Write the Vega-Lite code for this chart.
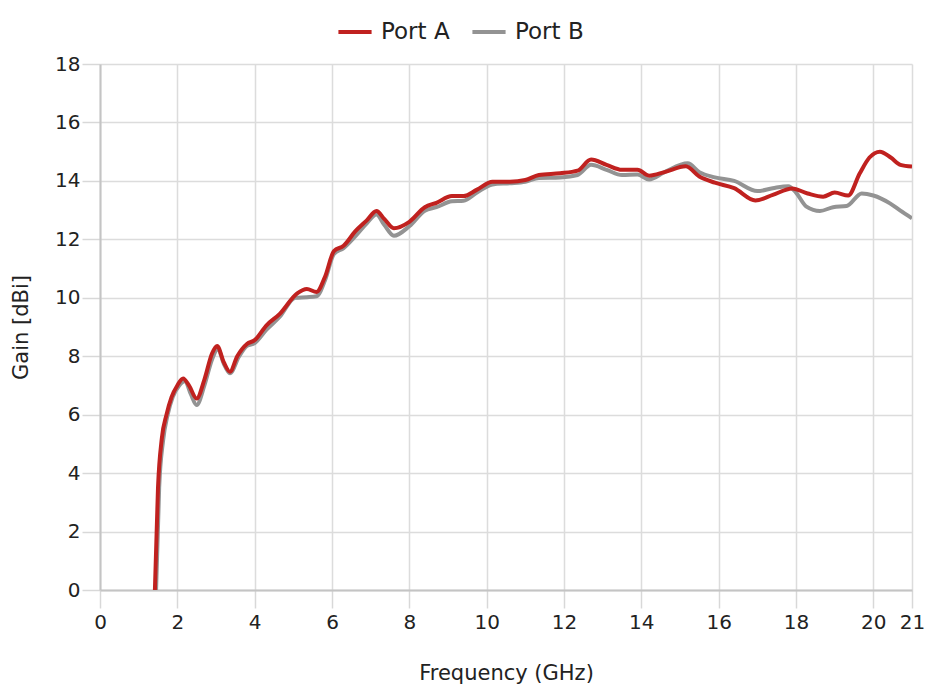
{
  "$schema": "https://vega.github.io/schema/vega-lite/v6.json",
  "width": 812,
  "height": 526,
  "autosize": "none",
  "padding": {"left": 100, "top": 64, "right": 18, "bottom": 106},
  "background": "white",
  "config": {
    "font": "DejaVu Sans",
    "view": {"stroke": null}
  },
  "datasets": {
    "a": [
      {"f": 1.42, "g": 0}, {"f": 1.5, "g": 3.5}, {"f": 1.6, "g": 5.2}, {"f": 1.72, "g": 6.0},
      {"f": 1.85, "g": 6.6}, {"f": 2.0, "g": 7.0}, {"f": 2.15, "g": 7.24}, {"f": 2.3, "g": 7.0},
      {"f": 2.5, "g": 6.55}, {"f": 2.7, "g": 7.2}, {"f": 2.9, "g": 8.1}, {"f": 3.03, "g": 8.35},
      {"f": 3.2, "g": 7.8}, {"f": 3.36, "g": 7.47}, {"f": 3.55, "g": 8.0}, {"f": 3.8, "g": 8.42},
      {"f": 4.0, "g": 8.55}, {"f": 4.3, "g": 9.05}, {"f": 4.65, "g": 9.45}, {"f": 5.1, "g": 10.15},
      {"f": 5.35, "g": 10.3}, {"f": 5.6, "g": 10.2}, {"f": 5.82, "g": 10.72}, {"f": 6.05, "g": 11.6},
      {"f": 6.3, "g": 11.78}, {"f": 6.6, "g": 12.27}, {"f": 6.9, "g": 12.65}, {"f": 7.15, "g": 12.97},
      {"f": 7.35, "g": 12.7}, {"f": 7.6, "g": 12.38}, {"f": 8.0, "g": 12.6}, {"f": 8.4, "g": 13.1},
      {"f": 8.7, "g": 13.25}, {"f": 9.1, "g": 13.48}, {"f": 9.4, "g": 13.48}, {"f": 9.75, "g": 13.7},
      {"f": 10.15, "g": 13.97}, {"f": 10.6, "g": 13.97}, {"f": 11.0, "g": 14.03}, {"f": 11.35, "g": 14.2},
      {"f": 11.9, "g": 14.26}, {"f": 12.35, "g": 14.35}, {"f": 12.7, "g": 14.73}, {"f": 13.1, "g": 14.55},
      {"f": 13.5, "g": 14.38}, {"f": 13.9, "g": 14.38}, {"f": 14.2, "g": 14.18}, {"f": 14.6, "g": 14.3},
      {"f": 15.15, "g": 14.5}, {"f": 15.5, "g": 14.15}, {"f": 15.9, "g": 13.94}, {"f": 16.4, "g": 13.75},
      {"f": 16.95, "g": 13.33}, {"f": 17.4, "g": 13.52}, {"f": 17.9, "g": 13.74}, {"f": 18.3, "g": 13.57},
      {"f": 18.7, "g": 13.46}, {"f": 19.0, "g": 13.6}, {"f": 19.35, "g": 13.5}, {"f": 19.65, "g": 14.26},
      {"f": 19.9, "g": 14.8}, {"f": 20.17, "g": 15.0}, {"f": 20.45, "g": 14.8}, {"f": 20.7, "g": 14.55},
      {"f": 21.0, "g": 14.49}
    ],
    "b": [
      {"f": 1.45, "g": 0}, {"f": 1.53, "g": 3.5}, {"f": 1.63, "g": 5.1}, {"f": 1.75, "g": 6.0},
      {"f": 1.88, "g": 6.6}, {"f": 2.05, "g": 7.0}, {"f": 2.2, "g": 7.15}, {"f": 2.35, "g": 6.7},
      {"f": 2.5, "g": 6.33}, {"f": 2.7, "g": 7.0}, {"f": 2.9, "g": 7.9}, {"f": 3.05, "g": 8.25},
      {"f": 3.2, "g": 7.75}, {"f": 3.36, "g": 7.42}, {"f": 3.6, "g": 8.0}, {"f": 3.8, "g": 8.35},
      {"f": 4.0, "g": 8.45}, {"f": 4.3, "g": 8.9}, {"f": 4.65, "g": 9.35}, {"f": 5.05, "g": 10.0},
      {"f": 5.35, "g": 10.02}, {"f": 5.6, "g": 10.05}, {"f": 5.82, "g": 10.6}, {"f": 6.05, "g": 11.5},
      {"f": 6.3, "g": 11.7}, {"f": 6.6, "g": 12.1}, {"f": 6.9, "g": 12.55}, {"f": 7.15, "g": 12.85},
      {"f": 7.35, "g": 12.5}, {"f": 7.6, "g": 12.12}, {"f": 8.0, "g": 12.45}, {"f": 8.4, "g": 12.98},
      {"f": 8.7, "g": 13.1}, {"f": 9.1, "g": 13.3}, {"f": 9.4, "g": 13.32}, {"f": 9.75, "g": 13.6},
      {"f": 10.15, "g": 13.88}, {"f": 10.6, "g": 13.92}, {"f": 11.0, "g": 13.97}, {"f": 11.35, "g": 14.1},
      {"f": 11.9, "g": 14.12}, {"f": 12.35, "g": 14.2}, {"f": 12.7, "g": 14.55}, {"f": 13.1, "g": 14.38},
      {"f": 13.5, "g": 14.2}, {"f": 13.9, "g": 14.22}, {"f": 14.2, "g": 14.05}, {"f": 14.6, "g": 14.3},
      {"f": 15.2, "g": 14.6}, {"f": 15.5, "g": 14.3}, {"f": 15.9, "g": 14.12}, {"f": 16.4, "g": 14.0},
      {"f": 17.0, "g": 13.65}, {"f": 17.4, "g": 13.75}, {"f": 17.8, "g": 13.82}, {"f": 18.0, "g": 13.6},
      {"f": 18.27, "g": 13.12}, {"f": 18.62, "g": 12.97}, {"f": 18.96, "g": 13.1}, {"f": 19.31, "g": 13.14},
      {"f": 19.7, "g": 13.57}, {"f": 20.0, "g": 13.5}, {"f": 20.43, "g": 13.23}, {"f": 20.7, "g": 12.98},
      {"f": 21.0, "g": 12.72}
    ]
  },
  "data": {"name": "b"},
  "transform": [
    {"calculate": "'Port B'", "as": "port"}
  ],
  "layer": [
    {
      "mark": {"type": "line", "strokeWidth": 4, "interpolate": "monotone", "clip": true},
      "encoding": {
        "x": {"field": "f", "type": "quantitative"},
        "y": {"field": "g", "type": "quantitative"},
        "color": {"field": "port", "type": "nominal"}
      }
    },
    {
      "data": {"name": "a"},
      "transform": [{"calculate": "'Port A'", "as": "port"}],
      "mark": {"type": "line", "strokeWidth": 4, "interpolate": "monotone", "clip": true},
      "encoding": {
        "x": {
          "field": "f", "type": "quantitative",
          "scale": {"domain": [0, 21], "nice": false, "zero": false},
          "axis": {
            "title": "Frequency (GHz)",
            "values": [0, 2, 4, 6, 8, 10, 12, 14, 16, 18, 20, 21],
            "grid": true, "gridColor": "#dcdcdc", "gridWidth": 1.5,
            "domain": true, "domainColor": "#c4c4c4", "domainWidth": 2,
            "ticks": true, "tickColor": "#d8d8d8", "tickSize": 18, "tickWidth": 1.5,
            "labelFontSize": 20, "labelColor": "#222", "labelPadding": 4, "labelFlush": false, "labelOverlap": false,
            "titleFontSize": 21, "titleFontWeight": "normal", "titleColor": "#222", "titlePadding": 30
          }
        },
        "y": {
          "field": "g", "type": "quantitative",
          "scale": {"domain": [0, 18], "nice": false},
          "axis": {
            "title": "Gain [dBi]",
            "values": [0, 2, 4, 6, 8, 10, 12, 14, 16, 18],
            "grid": true, "gridColor": "#dcdcdc", "gridWidth": 1.5,
            "domain": true, "domainColor": "#c4c4c4", "domainWidth": 2,
            "ticks": true, "tickColor": "#d8d8d8", "tickSize": 18, "tickWidth": 1.5,
            "labelFontSize": 20, "labelColor": "#222", "labelPadding": 2, "labelFlush": false,
            "titleFontSize": 21, "titleFontWeight": "normal", "titleColor": "#222", "titlePadding": 23
          }
        },
        "color": {
          "field": "port", "type": "nominal",
          "scale": {"domain": ["Port A", "Port B"], "range": ["#c0211f", "#939393"]},
          "legend": {
            "title": null, "orient": "none", "direction": "horizontal",
            "legendX": 236, "legendY": -51,
            "symbolType": "stroke", "symbolSize": 1100, "symbolStrokeWidth": 4,
            "labelFontSize": 23, "labelColor": "#222",
            "columnPadding": 14, "labelOffset": 7
          }
        }
      }
    }
  ]
}
